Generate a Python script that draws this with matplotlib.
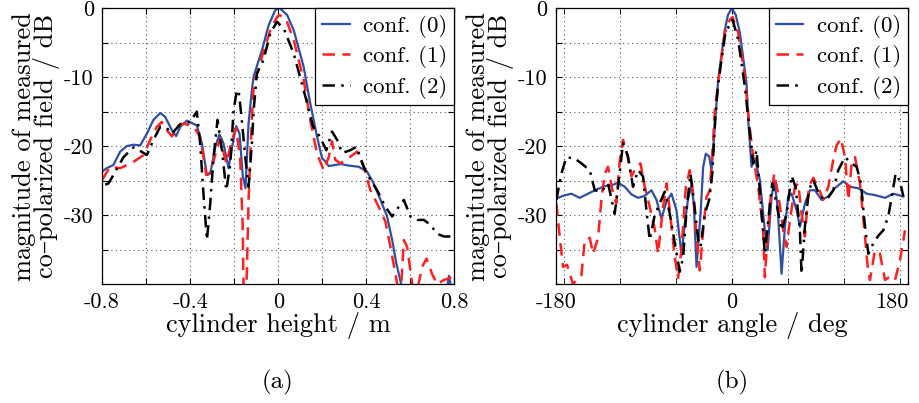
import numpy as np
import matplotlib
matplotlib.use("Agg")
import matplotlib.pyplot as plt
from matplotlib.ticker import FixedLocator

plt.rcParams["font.family"] = ["cmr10", "DejaVu Serif"]
plt.rcParams["mathtext.fontset"] = "cm"
plt.rcParams["axes.unicode_minus"] = False
plt.rcParams["axes.formatter.use_mathtext"] = True

# ---- (a) cylinder height / m ----
h_x0 = [-0.80, -0.779, -0.749, -0.718, -0.688, -0.658, -0.627, -0.597, -0.567, -0.536,
        -0.514, -0.483, -0.464, -0.445, -0.415, -0.37, -0.347, -0.324, -0.309, -0.286,
        -0.267, -0.249, -0.226, -0.21, -0.191, -0.176, -0.161, -0.149, -0.135, -0.12,
        -0.112, -0.074, -0.044, -0.014, 0.006, 0.04, 0.07, 0.115, 0.142, 0.176,
        0.199, 0.21, 0.229, 0.255, 0.285, 0.315, 0.365, 0.403, 0.433, 0.464,
        0.494, 0.517, 0.536, 0.558, 0.60, 0.70, 0.765, 0.775, 0.785, 0.80]
h_y0 = [-23.7, -23.2, -22.75, -20.8, -20.0, -19.8, -19.9, -18.2, -16.2, -15.2,
        -15.75, -17.7, -18.55, -17.2, -16.3, -17.0, -19.6, -24.2, -24.0, -20.1,
        -18.3, -19.6, -23.2, -20.1, -17.1, -18.2, -24.4, -26.1, -16.7, -11.9,
        -9.9, -6.1, -2.5, -0.3, 0.0, -1.0, -3.2, -8.5, -13.3, -18.65,
        -21.8, -22.1, -22.9, -22.75, -22.6, -22.8, -23.0, -23.7, -25.4, -27.8,
        -30.2, -33.6, -37.0, -40.0, -44.0, -45.0, -41.0, -38.8, -40.5, -40.2]

h_x1 = [-0.80, -0.764, -0.718, -0.658, -0.612, -0.582, -0.551, -0.529, -0.506, -0.483,
        -0.46, -0.43, -0.385, -0.355, -0.327, -0.309, -0.286, -0.264, -0.236, -0.21,
        -0.192, -0.173, -0.162, -0.158, -0.148, -0.135, -0.12, -0.112, -0.097, -0.07,
        -0.036, -0.006, 0.006, 0.036, 0.07, 0.115, 0.145, 0.176, 0.206, 0.229,
        0.244, 0.259, 0.282, 0.32, 0.358, 0.388, 0.418, 0.456, 0.486, 0.509,
        0.532, 0.54, 0.555, 0.57, 0.585, 0.608, 0.63, 0.653, 0.673, 0.698,
        0.721, 0.752, 0.79, 0.80]
h_y1 = [-24.9, -23.0, -23.2, -22.3, -21.3, -19.1, -17.2, -16.5, -17.7, -18.6,
        -17.2, -16.7, -17.2, -18.6, -24.2, -23.8, -21.2, -18.9, -22.5, -19.1,
        -17.4, -21.9, -31.2, -40.0, -45.0, -27.8, -16.0, -11.4, -9.5, -6.6,
        -3.2, -1.3, -1.0, -1.7, -4.6, -10.4, -16.2, -21.1, -23.5, -21.6,
        -19.3, -22.0, -22.5, -21.7, -20.8, -23.0, -26.4, -28.8, -30.9, -34.6,
        -38.5, -40.0, -42.0, -33.6, -34.6, -40.0, -41.0, -37.5, -36.3, -38.5,
        -40.0, -39.4, -39.0, -40.0]

h_x2 = [-0.786, -0.771, -0.749, -0.703, -0.658, -0.627, -0.597, -0.567, -0.536, -0.506,
        -0.483, -0.445, -0.40, -0.37, -0.355, -0.339, -0.324, -0.309, -0.294, -0.276,
        -0.256, -0.236, -0.218, -0.203, -0.188, -0.18, -0.167, -0.15, -0.135, -0.12,
        -0.112, -0.097, -0.067, -0.036, -0.006, 0.024, 0.07, 0.127, 0.158, 0.188,
        0.218, 0.244, 0.267, 0.29, 0.327, 0.355, 0.388, 0.418, 0.449, 0.486,
        0.517, 0.547, 0.57, 0.60, 0.63, 0.661, 0.691, 0.721, 0.752, 0.782, 0.797]
h_y2 = [-25.6, -25.4, -24.2, -21.6, -20.2, -20.7, -21.3, -19.1, -17.2, -17.4,
        -18.2, -16.8, -16.5, -15.0, -19.6, -27.3, -33.6, -28.3, -21.6, -16.2,
        -20.6, -26.4, -22.6, -14.8, -11.9, -12.0, -15.8, -21.6, -25.9, -19.6,
        -14.8, -9.5, -7.5, -3.6, -2.0, -2.9, -6.6, -13.3, -17.2, -18.6,
        -20.6, -17.9, -19.1, -21.0, -20.6, -20.1, -23.0, -24.9, -26.4, -28.8,
        -30.2, -28.8, -27.8, -30.2, -30.7, -30.7, -31.4, -32.7, -33.1, -33.1, -33.3]

# ---- (b) cylinder angle / deg ----
a_x0 = [-179.3, -172.5, -164, -155.5, -147, -138.4, -129.9, -123, -116.3, -109.4,
        -102.6, -95.8, -89, -82.1, -77, -71.9, -66.8, -61.7, -56.6, -51.4,
        -48.1, -44.7, -41.3, -38.9, -36.1, -32, -29.3, -26.6, -23.2, -20.8,
        -17.4, -14, -7.2, -4, 0, 4, 8.2, 15, 16.7, 20.1,
        23.5, 28.6, 33.7, 36.5, 40.6, 43.3, 46.7, 50.8, 54.2, 57.6,
        61, 66.2, 69.5, 74.7, 79.8, 84.9, 91.7, 98.5, 105.3, 113.8,
        120.7, 129.2, 137.8, 146.2, 156.5, 165, 175.2]
a_y0 = [-27.6, -27.2, -26.9, -27.5, -26.9, -26.3, -25.8, -25.7, -25.3, -25.9,
        -27.0, -27.5, -27.2, -26.4, -27.8, -30.5, -28.0, -26.9, -29.3, -35.8,
        -31.2, -27.6, -25.7, -28.3, -37.5, -29.8, -23.0, -21.1, -21.5, -23.5,
        -17.2, -10.4, -3.2, -1.0, 0.0, -1.0, -3.6, -10.9, -16.2, -23.0,
        -21.8, -24.9, -32.2, -35.1, -27.3, -24.9, -28.8, -38.5, -31.7, -27.3,
        -26.9, -29.3, -31.7, -28.3, -26.4, -26.4, -27.8, -27.3, -26.1, -25.1,
        -25.9, -26.1, -26.9, -27.1, -27.5, -26.9, -27.3]

a_x1 = [-179.3, -175.9, -172.5, -168.4, -162.3, -153.7, -150.3, -145.2, -141.8, -136.7,
        -133.3, -129.9, -126.5, -121.4, -118, -114.5, -111.2, -107.1, -102.6, -97.5,
        -93.4, -89, -83.9, -78.8, -75.4, -70.3, -66.8, -63.4, -58.3, -54.9,
        -51.4, -47, -43, -39.5, -36.1, -32.7, -29.3, -25.9, -22.5, -19.1,
        -17.4, -12.3, -7.2, -2, 0.7, 6.5, 13.3, 17.7, 21.8, 26.9,
        32, 33.7, 38.9, 43.3, 47.4, 52.5, 55.9, 59.3, 64.4, 67.8,
        71.2, 74.6, 78.7, 83.1, 88.2, 93.3, 98.5, 103.6, 107, 111.5,
        115.6, 119, 122.4, 125.8, 130.9, 135.4, 138.8, 141.1, 146.2, 151.3,
        156.5, 161.6, 166.7, 171.8, 176.9]
a_y1 = [-28.3, -33.1, -37.5, -37.2, -40.0, -38.7, -33.6, -33.3, -35.6, -33.3,
        -27.8, -24.0, -23.0, -26.9, -28.3, -22.0, -19.1, -21.1, -24.4, -23.0,
        -22.5, -25.9, -28.8, -32.0, -35.6, -28.8, -25.4, -29.3, -36.2, -39.1,
        -34.8, -25.9, -23.5, -26.9, -33.1, -38.0, -32.2, -27.4, -26.4, -19.1,
        -14.8, -8.9, -3.6, -1.7, -1.3, -3.6, -10.0, -16.7, -21.6, -25.9,
        -32.2, -39.0, -28.3, -24.0, -27.0, -32.2, -34.6, -30.8, -25.9, -25.4,
        -29.8, -33.1, -25.9, -24.6, -25.9, -27.8, -25.9, -22.0, -19.9, -18.9,
        -21.6, -27.8, -22.5, -21.6, -25.4, -32.2, -37.5, -39.4, -35.1, -35.6,
        -39.4, -38.9, -39.4, -36.5, -32.2]

a_x2 = [-179.3, -174.2, -169.1, -160.6, -153.7, -145.2, -140.1, -133.3, -126.5, -119.7,
        -116.3, -111.2, -106.1, -101, -95.8, -90.7, -87.3, -83.9, -78.8, -73.7,
        -68.6, -63.4, -58.3, -53.2, -49.8, -46.3, -42.3, -38.9, -34.4, -32,
        -27.6, -23.2, -20, -17, -14, -7.2, -2, 0.7, 6.5, 13.3,
        17.7, 21.8, 25.2, 29.6, 33.7, 37.1, 41.2, 45.6, 50.8, 55.9,
        61, 65.1, 69.5, 71.2, 74.6, 78.7, 83.1, 90, 96.8, 103.6,
        108.7, 115.6, 122.4, 127.5, 131.9, 135.4, 139.4, 144.5, 149.6, 154.7,
        159.8, 163.9, 167.3, 171.8, 175.2]
a_y2 = [-27.8, -24.0, -21.6, -21.8, -22.5, -23.5, -26.4, -26.6, -25.4, -29.8,
        -25.9, -19.6, -21.5, -25.9, -23.5, -24.4, -29.3, -33.6, -30.0, -28.3,
        -26.6, -29.8, -34.1, -38.2, -36.2, -29.3, -24.0, -27.8, -33.6, -34.6,
        -29.8, -27.8, -24.0, -16.0, -11.0, -4.1, -2.2, -1.7, -4.6, -11.4,
        -17.2, -22.5, -20.6, -28.3, -35.6, -30.8, -25.4, -28.3, -32.2, -29.8,
        -24.3, -25.9, -32.2, -38.5, -31.7, -26.4, -24.9, -27.3, -27.8, -26.4,
        -23.5, -21.6, -22.5, -23.0, -25.4, -30.8, -35.6, -34.1, -33.0, -32.2,
        -30.2, -26.9, -24.0, -25.1, -27.3]

labels = ["conf. (0)", "conf. (1)", "conf. (2)"]
BLUE, RED, BLACK = "#2f4fa6", "#ff1f1f", "black"
TFS, LFS = 16, 19

fig = plt.figure(figsize=(9.2, 4.03), dpi=100)
ax1 = fig.add_axes([0.111, 0.295, 0.383, 0.685])
ax2 = fig.add_axes([0.604, 0.295, 0.383, 0.685])


def draw(ax, xs, ys):
    ax.plot(xs[0], ys[0], color=BLUE, lw=1.6, label=labels[0])
    ax.plot(xs[1], ys[1], color=RED, lw=1.8, dashes=(5, 3), label=labels[1])
    ax.plot(xs[2], ys[2], color=BLACK, lw=1.8, dashes=(5, 2.5, 1, 2.5), label=labels[2])
    ax.set_ylim(-40, 0)
    ax.yaxis.set_major_locator(FixedLocator([-35, -30, -25, -20, -15, -10, -5, 0]))
    ax.set_yticklabels(["", "-30", "", "-20", "", "-10", "", "0"])
    ax.grid(True, ls=(0, (1, 3)), color="#555555", lw=0.8)
    ax.tick_params(direction="in", length=4, width=0.8, top=True, right=True,
                   labelsize=TFS, pad=6)
    ax.set_ylabel("magnitude of measured\nco–polarized field / dB", fontsize=LFS,
                  linespacing=0.85, labelpad=3)
    leg = ax.legend(loc="upper right", borderaxespad=0, fancybox=False, edgecolor="black",
                    fontsize=16.5, handlelength=1.2, handletextpad=0.6, labelspacing=0.32,
                    framealpha=1, borderpad=0.3)
    leg.get_frame().set_linewidth(0.9)
    for s in ax.spines.values():
        s.set_linewidth(0.9)


draw(ax1, [h_x0, h_x1, h_x2], [h_y0, h_y1, h_y2])
ax1.set_xlim(-0.8, 0.8)
ax1.xaxis.set_major_locator(FixedLocator([-0.8, -0.6, -0.4, -0.2, 0, 0.2, 0.4, 0.6, 0.8]))
ax1.set_xticklabels(["-0.8", "", "-0.4", "", "0", "", "0.4", "", "0.8"])
ax1.set_xlabel("cylinder height / m", fontsize=LFS, labelpad=0)

draw(ax2, [a_x0, a_x1, a_x2], [a_y0, a_y1, a_y2])
ax2.set_xlim(-180, 180)
rad = np.degrees([-3, -2, -1, 1, 2, 3])
ax2.xaxis.set_major_locator(FixedLocator([-180, 0, 180]))
ax2.set_xticklabels(["-180", "0", "180"])
ax2.get_xticklabels()[-1].set_horizontalalignment("right")
ax2.xaxis.set_minor_locator(FixedLocator(rad))
ax2.grid(True, which="minor", axis="x", ls=(0, (1, 3)), color="#555555", lw=0.8)
ax2.tick_params(which="minor", direction="in", length=4, top=True)
ax2.set_xlabel("cylinder angle / deg", fontsize=LFS, labelpad=0)

fig.text(0.302, 0.052, "(a)", ha="center", va="center", fontsize=18)
fig.text(0.796, 0.052, "(b)", ha="center", va="center", fontsize=18)

fig.savefig("out.png", dpi=100)
